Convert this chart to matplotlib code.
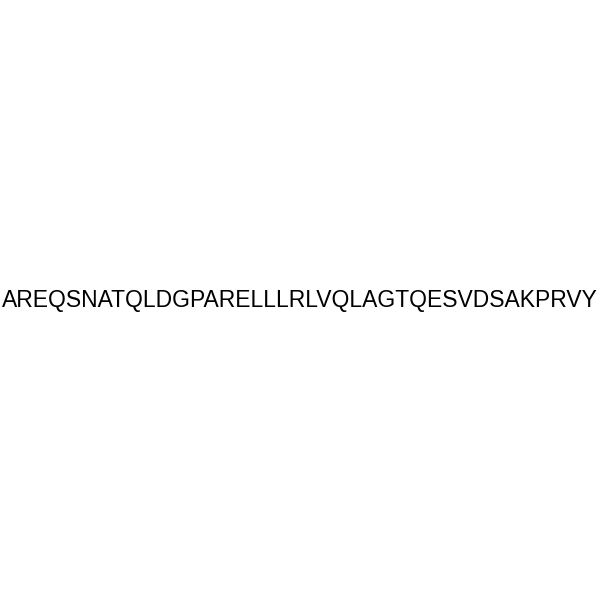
import matplotlib
matplotlib.use("Agg")
import matplotlib.pyplot as plt

sequence = "AREQSNATQLDGPARELLLRLVQLAGTQESVDSAKPRVY"

figure = plt.figure(figsize=(6, 6), dpi=100)
figure.patch.set_facecolor("white")
figure.text(
    0.5,
    0.5,
    sequence,
    ha="center",
    va="center",
    fontsize=16.5,
    family=["Liberation Sans", "DejaVu Sans"],
    color="black",
)
figure.savefig("out.png", dpi=100, facecolor="white")
plt.close(figure)
